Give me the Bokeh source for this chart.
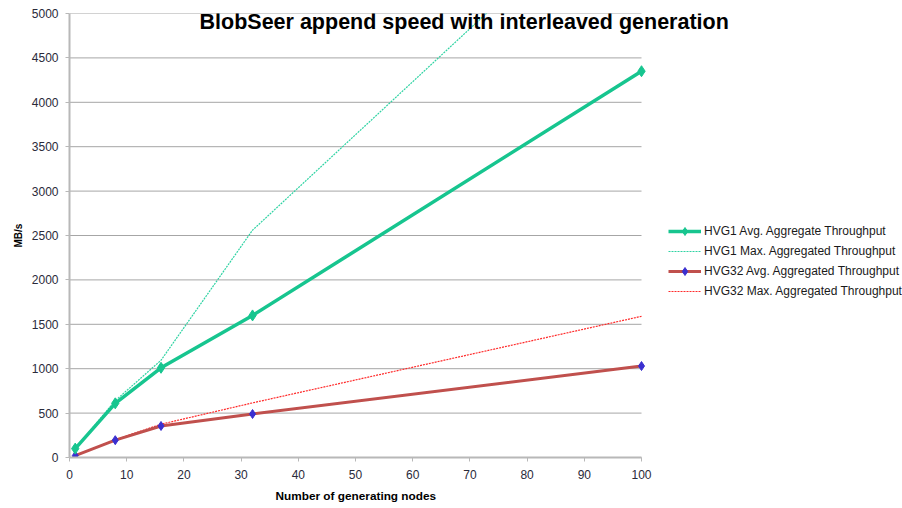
from bokeh.plotting import figure
from bokeh.models import Range1d, FixedTicker, Legend, LegendItem, Label, Title, ColumnDataSource
from bokeh.embed import file_html
from bokeh.resources import INLINE

nodes = [1, 8, 16, 32, 100]
hvg1_avg = [100, 610, 1010, 1600, 4350]
hvg1_max = [100, 640, 1095, 2560, 6620]
hvg32_avg = [20, 195, 355, 490, 1030]
hvg32_max = [20, 200, 375, 615, 1590]

x_ticks = [0, 10, 20, 30, 40, 50, 60, 70, 80, 90, 100]
y_ticks = [0, 500, 1000, 1500, 2000, 2500, 3000, 3500, 4000, 4500, 5000]

title_text = "BlobSeer append speed with interleaved generation"
x_label = "Number of generating nodes"
y_label = "MB/s"
names = ["HVG1 Avg. Aggregate Throughput", "HVG1 Max. Aggregated Throughput",
         "HVG32 Avg. Aggregated Throughput", "HVG32 Max. Aggregated Throughput"]

FONT = "Liberation Sans"
GREEN = "#17c58f"
GREEN_L = "#2fd3a3"
RED = "#c0504d"
RED_L = "#ff2a2a"
BLUE = "#3a2fd0"

# layout: the data area (0..100) is 572 px wide; the frame extends right to hold title overflow and legend
AXIS_W = 572
FRAME_W = 833
x_end = x_ticks[-1] * FRAME_W / AXIS_W

p = figure(frame_width=FRAME_W, frame_height=444, x_range=Range1d(0, x_end), y_range=Range1d(0, 5000),
           output_backend="svg", toolbar_location=None,
           min_border_left=69, min_border_right=0, min_border_top=13, min_border_bottom=45)
p.outline_line_color = None
p.background_fill_color = "white"
p.border_fill_color = "white"

p.xgrid.grid_line_color = None
p.ygrid.grid_line_color = None

p.xaxis.ticker = FixedTicker(ticks=x_ticks)
p.yaxis.ticker = FixedTicker(ticks=y_ticks)
p.xaxis.bounds = (x_ticks[0], x_ticks[-1])
for ax in (p.xaxis, p.yaxis):
    ax.axis_line_color = "#b8b8b8"
    ax.axis_line_width = 2
    ax.major_tick_line_color = "#b8b8b8"
    ax.major_tick_out = 4
    ax.major_tick_in = 0
    ax.minor_tick_line_color = None
    ax.major_label_text_font = FONT
    ax.major_label_text_font_size = "12px"
    ax.major_label_text_color = "#2a2a3a"
    ax.axis_label_text_font = FONT
    ax.axis_label_text_font_style = "bold"
    ax.axis_label_text_color = "#000000"
p.xaxis.major_label_standoff = 8
p.yaxis.major_label_standoff = 7
p.yaxis.axis_label = y_label
p.yaxis.axis_label_text_font_size = "10px"
p.yaxis.axis_label_standoff = 5

# x-axis label centred under the data area (0..100), not under the widened frame
xl = Title(text=x_label, align="left", offset=206, standoff=11,
           text_font=FONT, text_font_size="11.8px", text_font_style="bold", text_color="#000000")
p.add_layout(xl, "below")

# horizontal gridlines limited to the data area
p.segment(x0=[x_ticks[0]] * len(y_ticks), x1=[x_ticks[-1]] * len(y_ticks), y0=y_ticks, y1=y_ticks,
          line_color="#a6a6a6", line_width=1)

src = ColumnDataSource(dict(x=nodes, a1=hvg1_avg, m1=hvg1_max, a32=hvg32_avg, m32=hvg32_max))

r_m1 = p.line("x", "m1", source=src, line_color=GREEN_L, line_width=1.2, line_dash="2 1")
r_m32 = p.line("x", "m32", source=src, line_color=RED_L, line_width=1.2, line_dash="2 1")
r_a32 = p.line("x", "a32", source=src, line_color=RED, line_width=3)
r_a32m = p.scatter("x", "a32", source=src, marker="diamond", size=9, fill_color=BLUE, line_color=BLUE)
r_a1 = p.line("x", "a1", source=src, line_color=GREEN, line_width=3.5)
r_a1m = p.scatter("x", "a1", source=src, marker="diamond", size=11, fill_color=GREEN, line_color=GREEN)

legend = Legend(items=[
    LegendItem(label=names[0], renderers=[r_a1, r_a1m]),
    LegendItem(label=names[1], renderers=[r_m1]),
    LegendItem(label=names[2], renderers=[r_a32, r_a32m]),
    LegendItem(label=names[3], renderers=[r_m32]),
], location=(599, 156))
legend.label_text_font = FONT
legend.label_text_font_size = "12px"
legend.label_text_color = "#1a1a1a"
legend.glyph_width = 33
legend.glyph_height = 20
legend.label_height = 20
legend.spacing = 0
legend.padding = 0
legend.margin = 0
legend.label_standoff = 3
legend.border_line_color = None
legend.background_fill_alpha = 0
p.add_layout(legend)

title = Label(x=69, y=4900, text=title_text, text_align="center", text_baseline="alphabetic",
              text_font=FONT, text_font_size="21.5px", text_font_style="bold", text_color="#000000")
p.add_layout(title)

open("out.html", "w").write(file_html(p, INLINE))
